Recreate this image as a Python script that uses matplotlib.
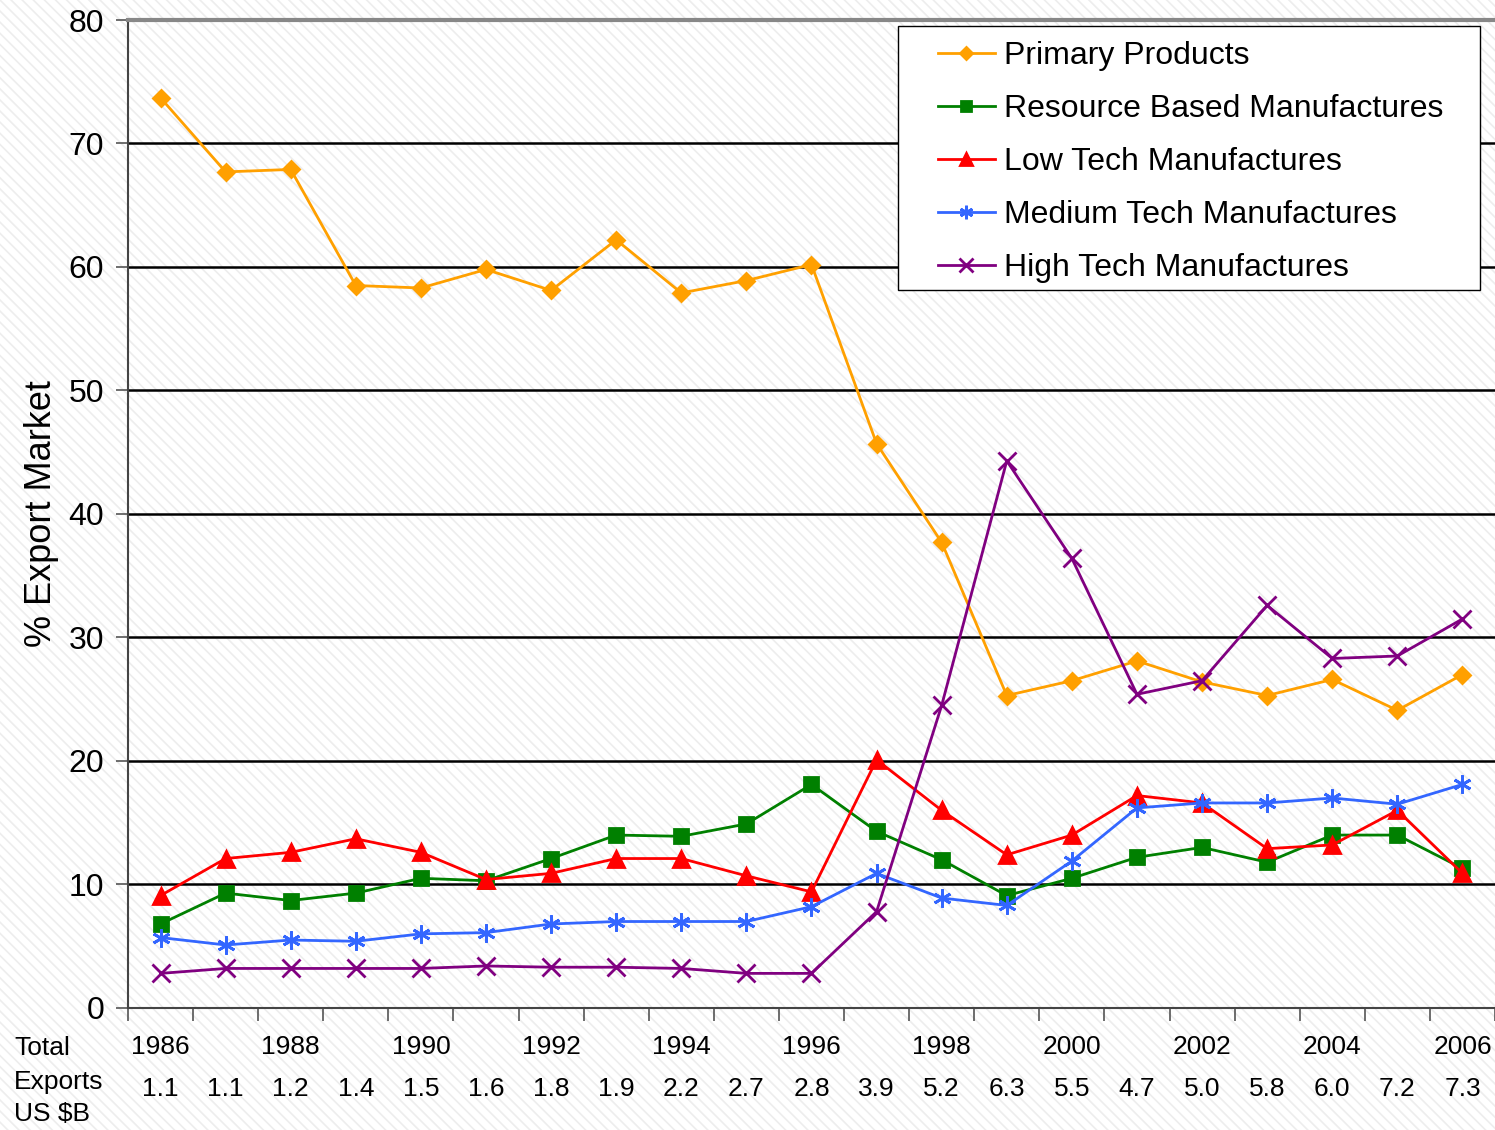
import matplotlib.pyplot as plt
import matplotlib.patches as mpatches
import matplotlib.transforms as mtransforms
import numpy as np

plt.rcParams['font.family'] = ['Liberation Sans', 'DejaVu Sans']

years = list(range(1986, 2007))
total_exports = [1.1, 1.1, 1.2, 1.4, 1.5, 1.6, 1.8, 1.9, 2.2, 2.7, 2.8,
                 3.9, 5.2, 6.3, 5.5, 4.7, 5.0, 5.8, 6.0, 7.2, 7.3]

primary = [73.7, 67.7, 67.9, 58.5, 58.3, 59.8, 58.1, 62.2, 57.9, 58.9, 60.2,
           45.7, 37.7, 25.3, 26.5, 28.1, 26.4, 25.3, 26.6, 24.1, 27.0]
resource = [6.8, 9.3, 8.7, 9.3, 10.5, 10.3, 12.1, 14.0, 13.9, 14.9, 18.1,
            14.3, 12.0, 9.1, 10.5, 12.2, 13.0, 11.8, 14.0, 14.0, 11.3]
low_tech = [9.1, 12.1, 12.6, 13.7, 12.6, 10.4, 10.9, 12.1, 12.1, 10.7, 9.4,
            20.1, 16.0, 12.4, 14.0, 17.2, 16.6, 12.9, 13.2, 16.0, 10.9]
medium_tech = [5.7, 5.1, 5.5, 5.4, 6.0, 6.1, 6.8, 7.0, 7.0, 7.0, 8.2,
               10.9, 8.9, 8.3, 11.9, 16.2, 16.6, 16.6, 17.0, 16.5, 18.1]
high_tech = [2.8, 3.2, 3.2, 3.2, 3.2, 3.4, 3.3, 3.3, 3.2, 2.8, 2.8,
             7.8, 24.5, 44.3, 36.4, 25.4, 26.5, 32.6, 28.3, 28.5, 31.5]

fig = plt.figure(figsize=(14.95, 11.3), dpi=100)

# faint diagonal stripes behind everything
plt.rcParams['hatch.linewidth'] = 1.2
bg = mpatches.Rectangle((0, 0), 1, 1, transform=fig.transFigure, facecolor='white',
                        edgecolor='#ededed', hatch='\\\\\\', lw=0, zorder=-10)
fig.patches.append(bg)

ax = fig.add_axes([0.0856, 0.108, 0.9144, 0.8743])
ax.patch.set_alpha(0)

x = np.arange(len(years))
series = [
    ('Primary Products', primary, '#FFA000', 'D', 8),
    ('Resource Based Manufactures', resource, '#008000', 's', 10),
    ('Low Tech Manufactures', low_tech, '#FF0000', '^', 11),
    ('Medium Tech Manufactures', medium_tech, '#3366FF', (6, 2, 0), 13),
    ('High Tech Manufactures', high_tech, '#800080', 'x', 13),
]
for name, vals, col, mk, ms in series:
    ax.plot(x, vals, color=col, lw=2.0, marker=mk, ms=ms, mec=col, mfc=col,
            mew=2, label=name, zorder=3)

ax.set_xlim(-0.5, len(years) - 0.5)
ax.set_ylim(0, 80)
ax.set_yticks(range(0, 81, 10))
ax.yaxis.grid(True, color='black', lw=1.8)
ax.set_axisbelow(True)
ax.tick_params(axis='y', labelsize=23, length=9, width=1.2, color='#555555', pad=8)

ax.set_xticks(np.arange(-0.5, len(years), 1), minor=True)
ax.set_xticks([])
ax.tick_params(axis='x', which='minor', length=9, width=1.2, color='#555555',
               direction='out')

for side in ['left', 'bottom']:
    ax.spines[side].set_color('#444444')
    ax.spines[side].set_linewidth(1.5)
ax.spines['top'].set_color('#888888')
ax.spines['top'].set_linewidth(3)
ax.spines['right'].set_visible(False)

ax.set_ylabel('% Export Market', fontsize=26, labelpad=7)

# year and total export rows under the axis
trans = mtransforms.blended_transform_factory(ax.transData, fig.transFigure)
for i, yr in enumerate(years):
    if yr % 2 == 0:
        ax.text(i, 1 - 1047 / 1130, str(yr), transform=trans, ha='center',
                va='center', fontsize=19)
    ax.text(i, 1 - 1089 / 1130, f'{total_exports[i]:.1f}', transform=trans,
            ha='center', va='center', fontsize=19)

for label, ypx in [('Total', 1048), ('Exports', 1082), ('US $B', 1114)]:
    fig.text(14 / 1495, 1 - ypx / 1130, label, ha='left', va='center', fontsize=19)

# legend box drawn separately so the padding can be wider than tall
box = mpatches.Rectangle((898 / 1495, 1 - 290 / 1130), 582 / 1495, 264 / 1130,
                         transform=fig.transFigure, facecolor='white',
                         edgecolor='black', lw=1.0, zorder=4, clip_on=False)
ax.add_patch(box)
leg = ax.legend(loc='upper left', bbox_to_anchor=(0.5925, 0.979), fontsize=23,
                frameon=False, handlelength=1.78, handletextpad=0.28,
                labelspacing=0.72, borderpad=0, markerscale=0.75,
                borderaxespad=0)
leg.set_zorder(6)

fig.savefig('out.png', dpi=100)
